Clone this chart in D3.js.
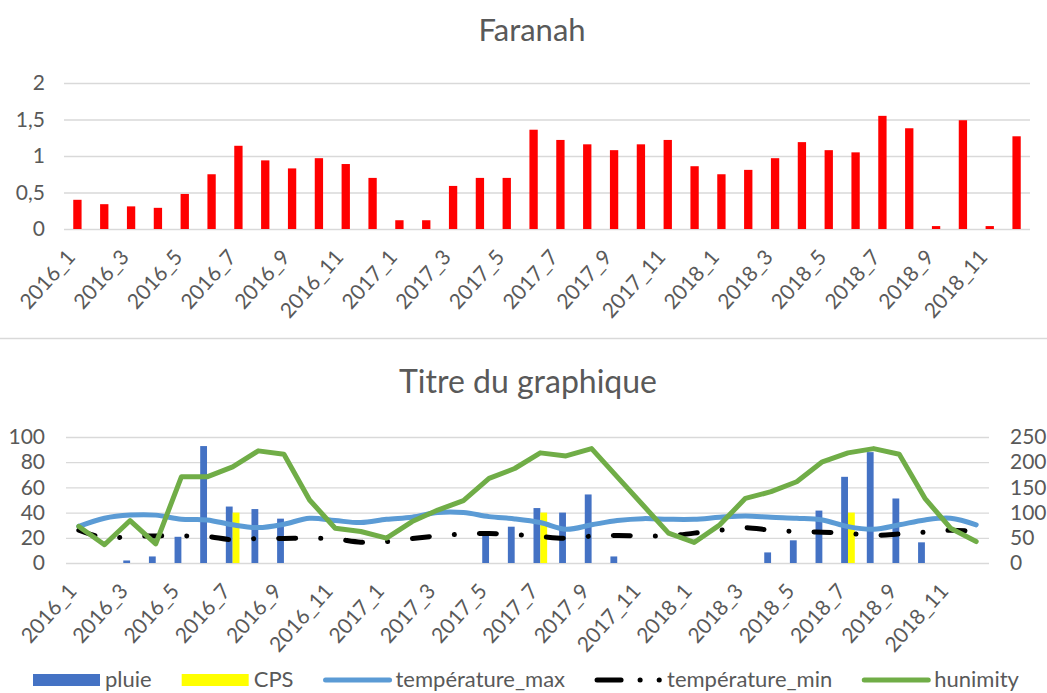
<!DOCTYPE html>
<html>
<head>
<meta charset="utf-8">
<script src="https://cdn.jsdelivr.net/npm/d3@7"></script>
<style>
  body { margin: 0; background: #fff; }
  text { font-family: "Lato", "Liberation Sans", sans-serif; fill: #595959; }
  .grid line { stroke: #d9d9d9; stroke-width: 1.3; }
  .grid .domain { display: none; }
</style>
</head>
<body>
<script>
// 36 months, Jan 2016 .. Dec 2018
var months = ["2016_1","2016_2","2016_3","2016_4","2016_5","2016_6","2016_7","2016_8","2016_9","2016_10","2016_11","2016_12",
              "2017_1","2017_2","2017_3","2017_4","2017_5","2017_6","2017_7","2017_8","2017_9","2017_10","2017_11","2017_12",
              "2018_1","2018_2","2018_3","2018_4","2018_5","2018_6","2018_7","2018_8","2018_9","2018_10","2018_11","2018_12"];

// top chart (Faranah)
var faranah = [0.40,0.34,0.31,0.29,0.48,0.75,1.14,0.94,0.83,0.97,0.89,0.70,
               0.12,0.12,0.59,0.70,0.70,1.36,1.22,1.16,1.08,1.16,1.22,0.86,
               0.75,0.81,0.97,1.19,1.08,1.05,1.55,1.38,0.04,1.49,0.04,1.27];

// bottom chart (Titre du graphique)
var pluie = [0,0,5,13,52,232,112,107,88,0,0,0,
             0,0,0,0,59,72,109,100,136,13,0,0,
             0,0,0,21,45,104,171,220,128,41,0,0];
var cps = [0,0,0,0,0,0,100,0,0,0,0,0,
           0,0,0,0,0,0,100,0,0,0,0,0,
           0,0,0,0,0,0,100,0,0,0,0,0];
var tempMax = [29,35.5,38,38,34.7,34.2,30.3,28.1,30.8,35.5,33.7,32.1,
               34.7,36.3,40,40,36.8,35,32.1,26.8,30.3,33.7,35.2,34.7,
               34.7,36.3,37.4,36.3,35.5,34.2,28.9,26.8,30.3,34.2,35.5,30.3];
var tempMin = [26,20,21,21.5,21.5,21,18.5,19.5,19.5,19.7,19,16.5,
               17,19.5,21.5,23,23.4,22.6,21,19.7,21.3,21.8,21.5,21.5,
               23.7,26,28,26,25,24.5,23.5,22,23,24.5,26,25];
var humidity = [29,14.5,33.7,15.2,68.4,68.4,76.3,89,86.3,50,27.6,25,
                19.7,32.9,42,49.5,67.1,75,87.4,85,90.8,68.4,46,23.7,
                16.3,30.3,51.3,56.6,64.5,80.3,87.4,90.8,86.3,51.3,27.6,17];

var topTicks = [0, 0.5, 1, 1.5, 2];
var leftTicks = [0, 20, 40, 60, 80, 100];
var rightTicks = [0, 50, 100, 150, 200, 250];
var seriesNames = ["pluie", "CPS", "température_max", "température_min", "hunimity"];

var width = 1047, height = 693;
var svg = d3.select("body").append("svg")
  .attr("width", width)
  .attr("height", height);

var comma = d => String(d).replace(".", ",");
var labelMonths = months.filter((d, i) => i % 2 == 0);

// ---------- top chart ----------
var x1 = d3.scaleBand().domain(months).range([64, 1030]);
var y1 = d3.scaleLinear().domain([0, 2]).range([229, 83]);

svg.append("text")
  .attr("x", 532).attr("y", 41)
  .attr("text-anchor", "middle")
  .style("font-size", "31px")
  .text("Faranah");

svg.append("g")
  .attr("class", "grid")
  .attr("transform", "translate(64,0)")
  .call(d3.axisLeft(y1).tickValues(topTicks).tickSize(-966).tickPadding(19).tickFormat(comma))
  .selectAll("text").style("font-size", "21px");

var bw1 = x1.bandwidth() * 0.31;
svg.append("g").selectAll("rect")
  .data(faranah)
  .enter().append("rect")
  .attr("x", (d, i) => x1(months[i]) + x1.bandwidth() / 2 - bw1 / 2)
  .attr("y", d => y1(d))
  .attr("width", bw1)
  .attr("height", d => y1(0) - y1(d))
  .attr("fill", "#ff0000");

svg.append("g").selectAll("text")
  .data(labelMonths)
  .enter().append("text")
  .attr("transform", d => "translate(" + (x1(d) + x1.bandwidth() / 2 - 1) + "," + 258 + ") rotate(-48)")
  .attr("text-anchor", "end")
  .style("font-size", "21px")
  .text(d => d);

// separator between the two charts
svg.append("line")
  .attr("x1", 0).attr("x2", width)
  .attr("y1", 338.5).attr("y2", 338.5)
  .attr("stroke", "#d9d9d9").attr("stroke-width", 1.5);

// ---------- bottom chart ----------
var x2 = d3.scaleBand().domain(months).range([66, 989]);
var yL = d3.scaleLinear().domain([0, 100]).range([563, 437]);
var yR = d3.scaleLinear().domain([0, 250]).range([563, 437]);
var xg = d3.scaleBand().domain(["pluie", "CPS"]).range([0, x2.bandwidth()]).paddingOuter(0.88);

svg.append("text")
  .attr("x", 528).attr("y", 393)
  .attr("text-anchor", "middle")
  .style("font-size", "32px")
  .text("Titre du graphique");

svg.append("g")
  .attr("class", "grid")
  .attr("transform", "translate(66,0)")
  .call(d3.axisLeft(yL).tickValues(leftTicks).tickSize(-923).tickPadding(21))
  .selectAll("text").style("font-size", "21px");

svg.append("g")
  .attr("class", "grid")
  .attr("transform", "translate(989,0)")
  .call(d3.axisRight(yR).tickValues(rightTicks).tickSize(0).tickPadding(21))
  .selectAll("text").style("font-size", "21px");

var bars = svg.append("g");
bars.selectAll(".pluie")
  .data(pluie)
  .enter().append("rect")
  .attr("class", "pluie")
  .attr("x", (d, i) => x2(months[i]) + xg("pluie"))
  .attr("y", d => yR(d))
  .attr("width", xg.bandwidth())
  .attr("height", d => yR(0) - yR(d))
  .attr("fill", "#4472c4");
bars.selectAll(".cps")
  .data(cps)
  .enter().append("rect")
  .attr("class", "cps")
  .attr("x", (d, i) => x2(months[i]) + xg("CPS"))
  .attr("y", d => yR(d))
  .attr("width", xg.bandwidth())
  .attr("height", d => yR(0) - yR(d))
  .attr("fill", "#ffff00");

var cx = (d, i) => x2(months[i]) + x2.bandwidth() / 2;
var smooth = d3.line().x(cx).y(d => yL(d)).curve(d3.curveCatmullRom.alpha(0.5));
var straight = d3.line().x(cx).y(d => yL(d));

svg.append("path")
  .attr("d", smooth(tempMax))
  .attr("fill", "none")
  .attr("stroke", "#5b9bd5")
  .attr("stroke-width", 5)
  .attr("stroke-linecap", "round");

svg.append("path")
  .attr("d", smooth(tempMin))
  .attr("fill", "none")
  .attr("stroke", "#000")
  .attr("stroke-width", 5)
  .attr("stroke-linecap", "round")
  .attr("stroke-dasharray", "17 25 0.1 25");

svg.append("path")
  .attr("d", straight(humidity))
  .attr("fill", "none")
  .attr("stroke", "#70ad47")
  .attr("stroke-width", 5)
  .attr("stroke-linejoin", "round")
  .attr("stroke-linecap", "round");

svg.append("g").selectAll("text")
  .data(labelMonths)
  .enter().append("text")
  .attr("transform", d => "translate(" + (x2(d) + x2.bandwidth() / 2 - 1) + "," + 592 + ") rotate(-48)")
  .attr("text-anchor", "end")
  .style("font-size", "21px")
  .text(d => d);

// ---------- legend ----------
var legend = svg.append("g").attr("transform", "translate(0,680)");
var lx = 33;
seriesNames.forEach(function(name, i) {
  var g = legend.append("g").attr("transform", "translate(" + lx + ",0)");
  if (i == 0 || i == 1) {
    g.append("rect").attr("x", 0).attr("y", -6).attr("width", 67).attr("height", 12)
      .attr("fill", i == 0 ? "#4472c4" : "#ffff00");
  } else if (i == 3) {
    g.append("line").attr("x1", 2).attr("x2", 66).attr("y1", 0).attr("y2", 0)
      .attr("stroke", "#000").attr("stroke-width", 5).attr("stroke-linecap", "round")
      .attr("stroke-dasharray", "24 19 0.1 19 0.1 40");
  } else {
    g.append("line").attr("x1", 2).attr("x2", 66).attr("y1", 0).attr("y2", 0)
      .attr("stroke", i == 2 ? "#5b9bd5" : "#70ad47").attr("stroke-width", 5)
      .attr("stroke-linecap", "round");
  }
  var t = g.append("text").attr("x", 72).attr("y", 7)
    .style("font-size", "22px")
    .text(name);
  lx += 72 + t.node().getComputedTextLength() + 30;
});
</script>
</body>
</html>
